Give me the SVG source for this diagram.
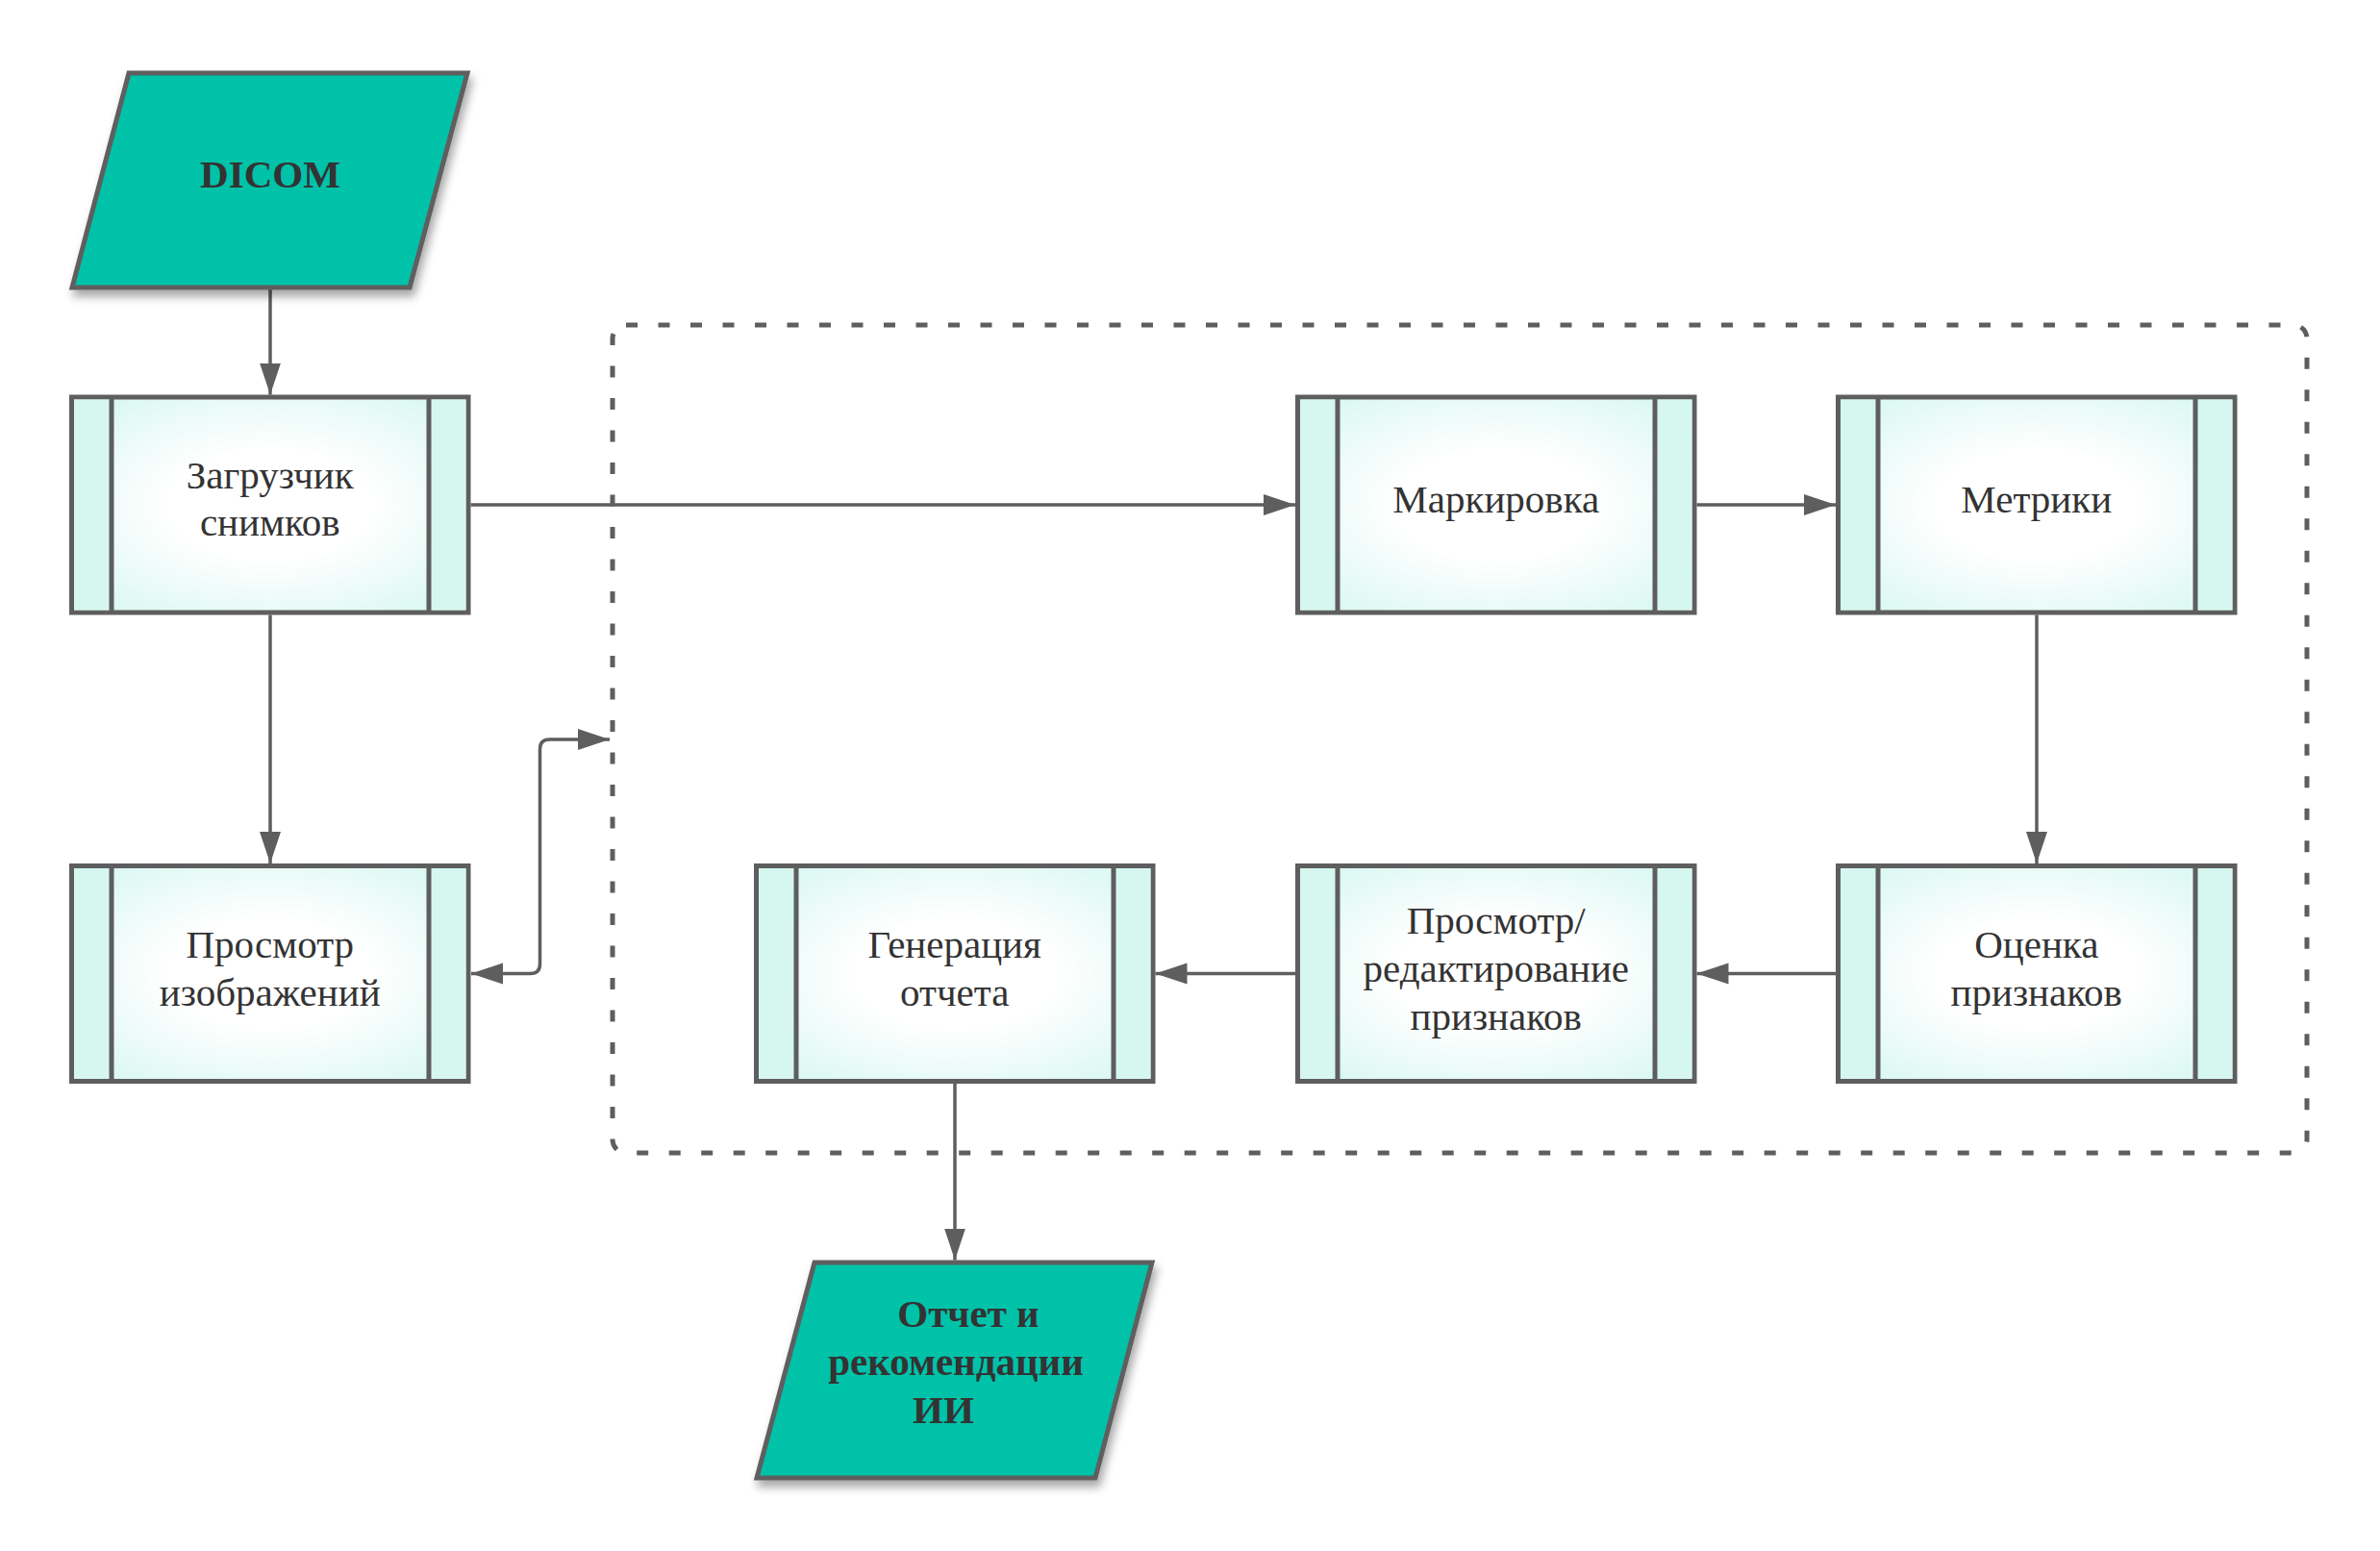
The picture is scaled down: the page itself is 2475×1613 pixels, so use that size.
<svg xmlns="http://www.w3.org/2000/svg" width="2475" height="1613" viewBox="0 0 2475 1613">
<defs>
<style>
.box{stroke:#5e5e5e;stroke-width:5;fill:url(#rg)}
.side{fill:#d6f7f0;stroke:none}
.div{stroke:#5e5e5e;stroke-width:5}
.para{fill:#00c2a9;stroke:#5e5e5e;stroke-width:5;filter:url(#sh)}
.lbl{font-family:"Liberation Serif","Times New Roman",serif;font-size:41px;fill:#333333;text-anchor:middle}
.blbl{font-family:"Liberation Serif","Times New Roman",serif;font-size:41px;font-weight:bold;fill:#333333;text-anchor:middle}
.con{fill:none;stroke:#5e5e5e;stroke-width:3.5;marker-end:url(#ah)}
.cont{fill:none;stroke:#5e5e5e;stroke-width:5;stroke-dasharray:12 21.5}
</style>
<radialGradient id="rg" cx="0.5" cy="0.5" r="0.72">
<stop offset="0.35" stop-color="#ffffff"/>
<stop offset="1" stop-color="#d2f6ef"/>
</radialGradient>
<filter id="sh" x="-20%" y="-20%" width="140%" height="150%">
<feDropShadow dx="3" dy="7" stdDeviation="5" flood-color="#000000" flood-opacity="0.35"/>
</filter>
<marker id="ah" markerUnits="userSpaceOnUse" markerWidth="34" markerHeight="24" refX="33" refY="11" orient="auto-start-reverse" viewBox="0 0 34 22">
<path d="M0,0 L33,11 L0,22 z" fill="#5e5e5e"/>
</marker>
</defs>
<rect width="2475" height="1613" fill="#ffffff"/>

<g id="container">
<rect class="cont" x="637" y="338" width="1762" height="861" rx="14" ry="14"/>
</g>

<g id="connectors">
<path class="con" d="M281 301 V410.5"/>
<path class="con" d="M489.5 525 H1347"/>
<path class="con" d="M1764.5 525 H1909"/>
<path class="con" d="M2118 639.5 V898"/>
<path class="con" d="M1909 1012.5 H1764.5"/>
<path class="con" d="M1347 1012.5 H1201.5"/>
<path class="con" d="M993 1127 V1310.5"/>
<path class="con" d="M281 639.5 V898"/>
<path class="con" style="marker-start:url(#ah)" d="M490 1012.5 H551.5 Q561.5 1012.5 561.5 1002.5 V779 Q561.5 769 571.5 769 H634"/>
</g>

<g id="dicom">
<polygon class="para" points="134,76 486,76 426,299 75,299"/>
<text class="blbl" x="281" y="195">DICOM</text>
</g>

<g id="zagruzchik">
<rect class="box" x="74.5" y="413" width="412.5" height="224"/>
<rect class="side" x="77" y="415.5" width="39" height="219"/>
<rect class="side" x="446" y="415.5" width="38.5" height="219"/>
<line class="div" x1="116" y1="413" x2="116" y2="637"/>
<line class="div" x1="446" y1="413" x2="446" y2="637"/>
<text class="lbl" x="280.75" y="508">Загрузчик</text>
<text class="lbl" x="280.75" y="557">снимков</text>
</g>

<g id="prosmotr-izobrazheniy">
<rect class="box" x="74.5" y="900.5" width="412.5" height="224"/>
<rect class="side" x="77" y="903" width="39" height="219"/>
<rect class="side" x="446" y="903" width="38.5" height="219"/>
<line class="div" x1="116" y1="900.5" x2="116" y2="1124.5"/>
<line class="div" x1="446" y1="900.5" x2="446" y2="1124.5"/>
<text class="lbl" x="280.75" y="995.5">Просмотр</text>
<text class="lbl" x="280.75" y="1045.5">изображений</text>
</g>

<g id="markirovka">
<rect class="box" x="1349.5" y="413" width="412.5" height="224"/>
<rect class="side" x="1352" y="415.5" width="39" height="219"/>
<rect class="side" x="1721" y="415.5" width="38.5" height="219"/>
<line class="div" x1="1391" y1="413" x2="1391" y2="637"/>
<line class="div" x1="1721" y1="413" x2="1721" y2="637"/>
<text class="lbl" x="1555.75" y="533">Маркировка</text>
</g>

<g id="metriki">
<rect class="box" x="1911.5" y="413" width="412.5" height="224"/>
<rect class="side" x="1914" y="415.5" width="39" height="219"/>
<rect class="side" x="2283" y="415.5" width="38.5" height="219"/>
<line class="div" x1="1953" y1="413" x2="1953" y2="637"/>
<line class="div" x1="2283" y1="413" x2="2283" y2="637"/>
<text class="lbl" x="2117.75" y="533">Метрики</text>
</g>

<g id="otsenka">
<rect class="box" x="1911.5" y="900.5" width="412.5" height="224"/>
<rect class="side" x="1914" y="903" width="39" height="219"/>
<rect class="side" x="2283" y="903" width="38.5" height="219"/>
<line class="div" x1="1953" y1="900.5" x2="1953" y2="1124.5"/>
<line class="div" x1="2283" y1="900.5" x2="2283" y2="1124.5"/>
<text class="lbl" x="2117.75" y="995.5">Оценка</text>
<text class="lbl" x="2117.75" y="1045.5">признаков</text>
</g>

<g id="prosmotr-redaktirovanie">
<rect class="box" x="1349.5" y="900.5" width="412.5" height="224"/>
<rect class="side" x="1352" y="903" width="39" height="219"/>
<rect class="side" x="1721" y="903" width="38.5" height="219"/>
<line class="div" x1="1391" y1="900.5" x2="1391" y2="1124.5"/>
<line class="div" x1="1721" y1="900.5" x2="1721" y2="1124.5"/>
<text class="lbl" x="1555.75" y="970.5">Просмотр/</text>
<text class="lbl" x="1555.75" y="1020.5">редактирование</text>
<text class="lbl" x="1555.75" y="1070.5">признаков</text>
</g>

<g id="generatsiya">
<rect class="box" x="786.5" y="900.5" width="412.5" height="224"/>
<rect class="side" x="789" y="903" width="39" height="219"/>
<rect class="side" x="1158" y="903" width="38.5" height="219"/>
<line class="div" x1="828" y1="900.5" x2="828" y2="1124.5"/>
<line class="div" x1="1158" y1="900.5" x2="1158" y2="1124.5"/>
<text class="lbl" x="992.75" y="995.5">Генерация</text>
<text class="lbl" x="992.75" y="1045.5">отчета</text>
</g>

<g id="otchet">
<polygon class="para" points="847,1313 1198,1313 1139,1537 787,1537"/>
<text class="blbl" x="1007" y="1380">Отчет и</text>
<text class="blbl" x="994" y="1430">рекомендации</text>
<text class="blbl" x="981" y="1480">ИИ</text>
</g>
</svg>
